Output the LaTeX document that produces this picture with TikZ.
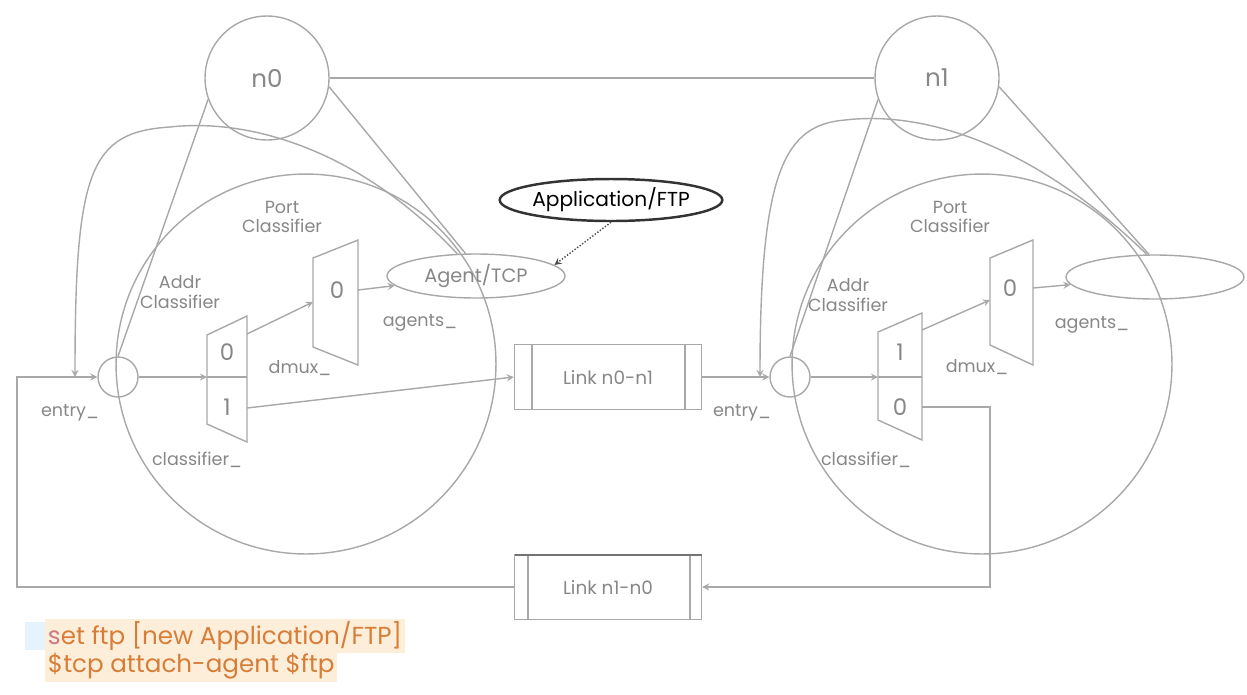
\documentclass[tikz,border=0pt]{standalone}
\usepackage{fontspec}
\setmainfont{Poppins}
\usetikzlibrary{shapes.geometric,arrows}
\definecolor{wiregray}{RGB}{168,168,168}
\definecolor{labelgray}{RGB}{135,135,135}
\definecolor{codeorange}{RGB}{215,125,55}
\definecolor{codeback}{RGB}{253,238,218}
\definecolor{codeblue}{RGB}{228,243,252}
\definecolor{codepink}{RGB}{205,120,130}

\tikzset{
  wire/.style={draw=wiregray, line width=0.8pt},
  lbl/.style={text=labelgray, font=\fontsize{10}{11}\selectfont, align=center, inner sep=1pt},
  digit/.style={text=labelgray, font=\fontsize{13}{14}\selectfont, inner sep=1pt},
  topnode/.style={circle, draw=wiregray, line width=0.8pt, minimum size=2.48cm, text=labelgray, font=\fontsize{14}{15}\selectfont},
  zoomview/.style={circle, draw=wiregray, line width=0.8pt, minimum size=7.6cm},
  entrynode/.style={circle, draw=wiregray, line width=0.8pt, minimum size=0.8cm},
  agentnode/.style={ellipse, draw=wiregray, line width=0.8pt, minimum width=3.56cm, minimum height=0.88cm, inner sep=0pt, text=labelgray, font=\fontsize{11}{12}\selectfont},
  appnode/.style={ellipse, draw=black!80, line width=1.4pt, minimum width=3.8cm, minimum height=0.84cm, inner sep=0pt, font=\fontsize{11.5}{12}\selectfont},
  linkbox/.style={rectangle, draw=wiregray, line width=0.8pt, minimum width=3.74cm, minimum height=1.3cm, text=labelgray, font=\fontsize{10.5}{11}\selectfont},
  codeline/.style={anchor=west, fill=codeback, text=codeorange, inner sep=1.5pt, font=\fontsize{14}{15}\selectfont}
}

\begin{document}
\begin{tikzpicture}[x=0.02cm,y=-0.02cm,>=stealth]
\useasboundingbox (0,0) rectangle (1247,694);

% the two nodes and the link drawn between them
\node[topnode] (n0) at (267,78) {n0};
\node[topnode] (n1) at (937,78) {n1};
\draw[wire] (n0) -- (n1);

% inside views
\node[zoomview] (zoom0) at (306,364) {};
\node[zoomview] (zoom1) at (982,364) {};

\node[entrynode] (entry0) at (118,377) {};
\node[entrynode] (entry1) at (790,377) {};

\node[agentnode] (agent0) at (476,276) {Agent/TCP};
\node[agentnode] (agent1) at (1155,277) {};
\node[appnode] (app) at (611,200) {Application/FTP};

\node[linkbox] (link01) at (608,377) {Link n0-n1};
\node[linkbox] (link10) at (608,587) {Link n1-n0};
\draw[wire] (532,345) -- (532,410) (685,345) -- (685,410);
\draw[wire] (528,555) -- (528,620) (690,555) -- (690,620);
\draw[draw=black!55, line width=1.2pt] (515,555) -- (702,555);

% classifiers of n0
\draw[wire] (207,335) -- (247,316) -- (247,442) -- (207,424) -- cycle;
\draw[wire] (207,377) -- (247,377);
\node[digit] (a0zero) at (227,352) {0};
\node[digit] (a0one) at (227,407) {1};
\coordinate (a0in) at (207,377);
\coordinate (a0out0) at (247,334);
\coordinate (a0out1) at (247,408);

\draw[wire] (313,258) -- (358,240) -- (358,365) -- (313,347) -- cycle;
\node[digit] (p0zero) at (337,290) {0};
\coordinate (p0in) at (313,302);
\coordinate (p0out) at (358,290);

% classifiers of n1
\draw[wire] (878,332) -- (922,313) -- (922,440) -- (878,420) -- cycle;
\draw[wire] (878,377) -- (922,377);
\node[digit] (a1one) at (900,352) {1};
\node[digit] (a1zero) at (900,407) {0};
\coordinate (a1in) at (878,377);
\coordinate (a1out1) at (922,330);
\coordinate (a1out0) at (922,407);

\draw[wire] (990,258) -- (1033,240) -- (1033,365) -- (990,345) -- cycle;
\node[digit] (p1zero) at (1010,288) {0};
\coordinate (p1in) at (990,300);
\coordinate (p1out) at (1033,288);

\coordinate (tap0) at (75,377);
\coordinate (tap1) at (760,377);

% labels
\node[lbl] (addr0) at (180,292) {Addr\\Classifier};
\node[lbl] (port0) at (282,217) {Port\\Classifier};
\node[lbl] (entrylbl0) at (70,413) {entry\_};
\node[lbl] (classlbl0) at (197,460) {classifier\_};
\node[lbl] (dmuxlbl0) at (300,368) {dmux\_};
\node[lbl] (agentslbl0) at (420,323) {agents\_};
\node[lbl] (addr1) at (848,295) {Addr\\Classifier};
\node[lbl] (port1) at (950,217) {Port\\Classifier};
\node[lbl] (entrylbl1) at (742,413) {entry\_};
\node[lbl] (classlbl1) at (866,460) {classifier\_};
\node[lbl] (dmuxlbl1) at (977,367) {dmux\_};
\node[lbl] (agentslbl1) at (1092,325) {agents\_};

% connectors
\draw[wire] (n0.200) -- (entry0.north);
\draw[wire] (n0.352) -- (agent0.115);
\draw[wire] (n1.200) -- (entry1.north);
\draw[wire] (n1.352) -- (agent1.105);

% target_ of each agent back to the entry
\draw[wire,->] (agent0.130) .. controls (360,150) and (250,118) .. (170,127)
  .. controls (90,132) and (75,170) .. (tap0);
\draw[wire,->] (agent1.110) .. controls (1040,150) and (930,110) .. (845,120)
  .. controls (785,125) and (760,170) .. (tap1);

\draw[wire,->] (entry0) -- (a0in);
\draw[wire,->] (a0out0) -- (p0in);
\draw[wire,->] (a0out1) -- (link01.west);
\draw[wire,->] (p0out) -- (agent0);
\draw[draw=black!70, line width=0.8pt, densely dotted, ->] (app.south) -- (agent0.8);

\draw[wire,->] (link01) -- (entry1);
\draw[wire,->] (entry1) -- (a1in);
\draw[wire,->] (a1out1) -- (p1in);
\draw[wire,->] (p1out) -- (agent1);
\draw[wire,->] (a1out0) -- ++(68,0) |- (link10.east);
\draw[wire,->] (link10.west) -- ++(-497,0) |- (entry0);

% the OTcl lines
\fill[codeblue] (25,622) rectangle (58,650);
\node[codeline] (code1) at (45,636) {\textcolor{codepink}{s}et ftp [new Application/FTP]};
\node[codeline] (code2) at (45,666) {\$tcp attach-agent \$ftp};

\end{tikzpicture}
\end{document}
